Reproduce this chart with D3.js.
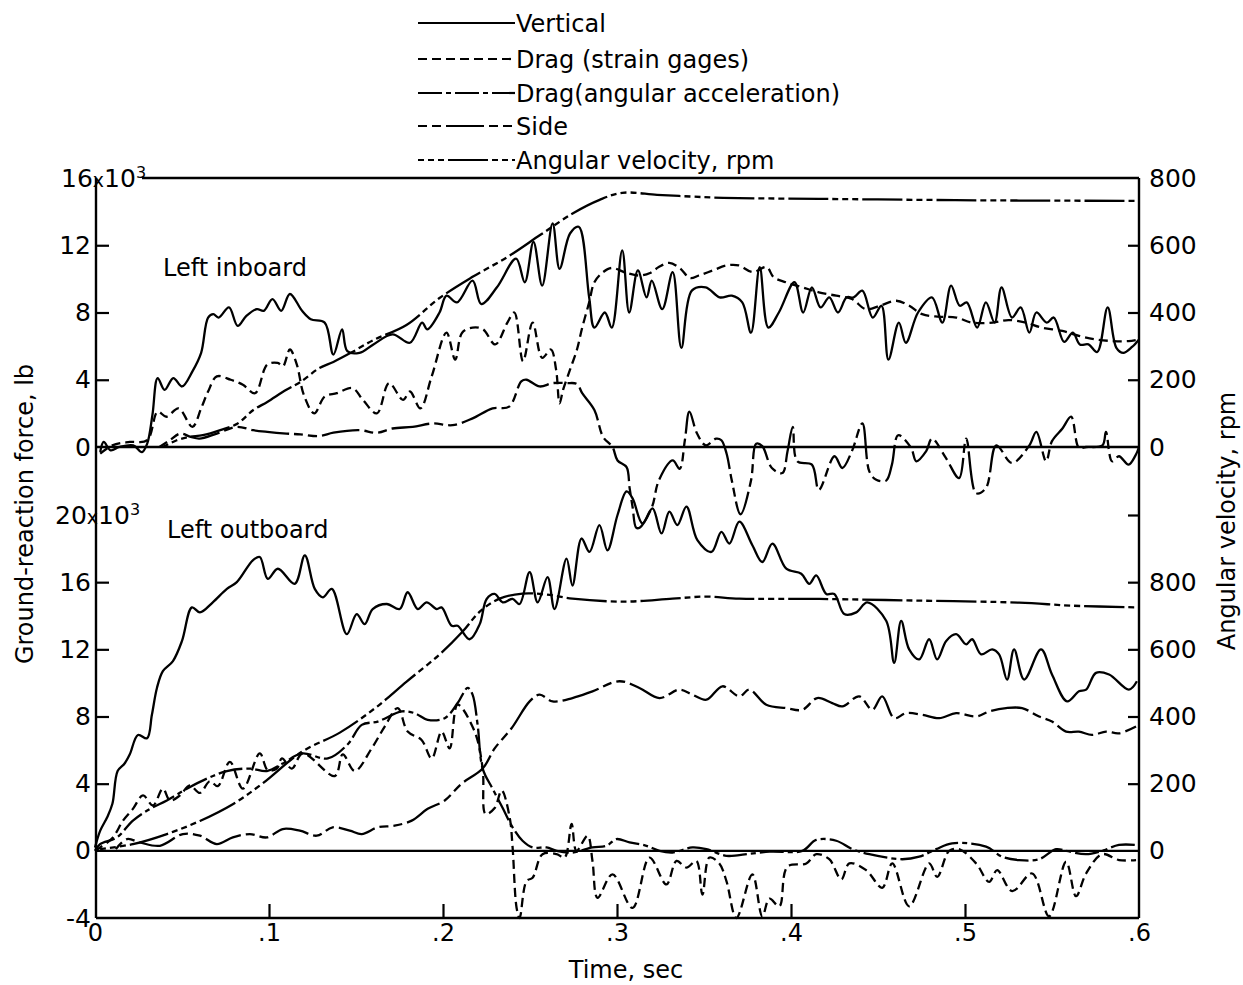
<!DOCTYPE html>
<html>
<head>
<meta charset="utf-8">
<title>Ground-reaction forces, left inboard and outboard wheels</title>
<script src="https://d3js.org/d3.v7.min.js"></script>
<style>
body {margin:0; background:white;}
svg {display:block;}
text {font-family:"DejaVu Sans", sans-serif; fill:black;}
</style>
</head>
<body>
<svg id="chart" width="1243" height="985"></svg>
<script>
// ---- data: [time (s), value] ----
// left inboard, force in 1000 lb, angular velocity in rpm
const inboardVertical = [[0.003,-0.3],[0.005,0.3],[0.009,-0.2],[0.014,0],[0.022,0.1],[0.027,-0.3],[0.030,0.2],[0.033,1.9],[0.036,4.1],[0.040,3.4],[0.045,4.1],[0.050,3.6],[0.056,4.5],[0.061,5.6],[0.065,7.7],[0.068,7.9],[0.071,7.7],[0.077,8.3],[0.082,7.2],[0.087,7.8],[0.093,8.2],[0.097,8.1],[0.102,8.8],[0.107,8.1],[0.112,9.1],[0.119,8.1],[0.124,7.6],[0.132,7.4],[0.137,5.5],[0.142,7.0],[0.145,5.7],[0.152,5.6],[0.160,6.1],[0.171,6.7],[0.181,6.2],[0.188,7.4],[0.191,7.0],[0.198,8.0],[0.202,9.0],[0.208,8.6],[0.217,9.9],[0.222,8.5],[0.231,9.5],[0.242,11.2],[0.247,9.8],[0.252,12.2],[0.257,9.6],[0.263,13.3],[0.267,10.6],[0.273,12.7],[0.278,13.1],[0.284,8.9],[0.287,7.1],[0.293,8.0],[0.297,7.1],[0.303,11.7],[0.307,8.0],[0.312,10.5],[0.317,8.9],[0.320,9.9],[0.326,8.2],[0.332,10.4],[0.337,5.9],[0.343,9.3],[0.351,9.5],[0.359,8.9],[0.366,9.0],[0.372,8.6],[0.377,6.8],[0.382,10.7],[0.387,7.1],[0.393,8.0],[0.402,9.8],[0.407,8.0],[0.412,9.5],[0.417,8.3],[0.422,8.9],[0.427,8.0],[0.432,8.9],[0.436,8.9],[0.441,9.3],[0.447,7.7],[0.452,8.4],[0.456,5.2],[0.462,7.4],[0.466,6.2],[0.473,8.0],[0.481,8.9],[0.487,7.4],[0.492,9.6],[0.497,8.4],[0.501,8.6],[0.507,7.1],[0.512,8.6],[0.517,7.4],[0.521,9.5],[0.527,7.7],[0.532,8.3],[0.537,6.8],[0.541,8.0],[0.547,7.4],[0.551,7.7],[0.557,6.25],[0.562,6.8],[0.566,6.1],[0.571,6.1],[0.576,5.65],[0.582,8.3],[0.587,5.9],[0.591,5.6],[0.596,5.95],[0.600,6.4]];

const inboardDragStrain = [[0.003,-0.4],[0.010,0.1],[0.020,0.3],[0.030,0.4],[0.036,2.1],[0.041,1.8],[0.048,2.3],[0.056,1.2],[0.061,2.3],[0.065,3.3],[0.070,4.2],[0.078,4.0],[0.085,3.7],[0.092,3.2],[0.099,4.9],[0.105,5.0],[0.108,4.8],[0.112,5.8],[0.116,4.9],[0.120,3.1],[0.126,2.0],[0.132,3.0],[0.139,3.2],[0.148,3.5],[0.154,2.8],[0.162,2.0],[0.169,3.8],[0.177,2.8],[0.181,3.3],[0.187,2.3],[0.1935,4.2],[0.202,6.8],[0.207,5.2],[0.211,6.8],[0.217,7.1],[0.223,7.0],[0.230,6.1],[0.237,7.4],[0.241,8.0],[0.246,5.1],[0.2515,7.4],[0.257,5.3],[0.262,5.8],[0.265,4.6],[0.267,2.6],[0.269,3.4],[0.273,4.6],[0.277,5.8],[0.280,7.1],[0.284,8.6],[0.287,9.8],[0.292,10.4],[0.297,10.65],[0.3055,10.35],[0.313,10.2],[0.319,10.35],[0.324,10.7],[0.330,10.95],[0.336,10.65],[0.342,10.05],[0.347,10.2],[0.355,10.5],[0.363,10.8],[0.370,10.8],[0.378,10.4],[0.386,10.7],[0.390,10.1],[0.397,9.8],[0.4065,9.5],[0.416,9.2],[0.426,9.0],[0.435,8.8],[0.443,8.2],[0.451,8.4],[0.4605,8.7],[0.468,8.4],[0.4754,7.9],[0.485,7.75],[0.495,7.7],[0.504,7.4],[0.516,7.4],[0.525,7.55],[0.535,7.4],[0.544,7.1],[0.556,6.9],[0.566,6.6],[0.575,6.4],[0.585,6.3],[0.594,6.3],[0.600,6.4]];

const inboardSide = [[0.037,0],[0.043,0.4],[0.049,0.8],[0.055,0.6],[0.060,0.5],[0.070,0.8],[0.0815,1.2],[0.091,1.0],[0.099,0.9],[0.110,0.8],[0.118,0.75],[0.129,0.65],[0.137,0.85],[0.152,1.0],[0.162,0.85],[0.171,1.1],[0.1826,1.2],[0.194,1.4],[0.2055,1.3],[0.217,1.7],[0.2285,2.3],[0.238,2.4],[0.245,3.9],[0.248,4.0],[0.2555,3.6],[0.263,3.8],[0.271,3.8],[0.277,3.75],[0.280,3.2],[0.287,2.2],[0.292,0.6],[0.2974,0],[0.3003,-0.8],[0.3055,-1.2],[0.3072,-2.4],[0.309,-3.6],[0.311,-4.8],[0.313,-4.8],[0.320,-3.6],[0.324,-2.0],[0.332,-0.8],[0.336,-1.3],[0.339,0.4],[0.3416,2.1],[0.346,0.8],[0.351,0.1],[0.357,0.5],[0.360,0.4],[0.363,-0.4],[0.366,-2.0],[0.371,-4.0],[0.377,-2.0],[0.380,0.2],[0.3835,0.05],[0.389,-1.25],[0.395,-1.55],[0.398,-0.25],[0.401,1.2],[0.4036,-0.85],[0.412,-1.05],[0.416,-2.55],[0.425,-0.55],[0.4295,-1.25],[0.435,-0.25],[0.441,1.4],[0.445,-1.45],[0.449,-1.95],[0.4547,-2.0],[0.458,-1.05],[0.4616,0.7],[0.469,-0.05],[0.472,-0.85],[0.4777,-0.25],[0.481,0.5],[0.489,-0.65],[0.4966,-1.85],[0.5007,0.5],[0.5064,-2.75],[0.512,-2.45],[0.518,0.1],[0.527,-0.95],[0.537,0.1],[0.541,0.9],[0.5466,-0.85],[0.550,0.35],[0.556,1.1],[0.561,1.8],[0.5655,-0.05],[0.5696,0],[0.579,0.1],[0.581,0.9],[0.5845,-0.85],[0.5885,-0.55],[0.594,-1.05],[0.598,-0.5],[0.600,0]];

const inboardAngVel = [[0.039,0],[0.047,20],[0.054,30],[0.062,35],[0.072,50],[0.082,70],[0.091,110],[0.099,134],[0.110,170],[0.118,193],[0.129,235],[0.137,253],[0.147,280],[0.160,318],[0.179,363],[0.198,443],[0.217,506],[0.237,565],[0.256,631],[0.275,696],[0.290,735],[0.303,756],[0.323,750],[0.342,745],[0.361,741],[0.416,738],[0.474,735],[0.531,733],[0.600,732]];

// left outboard
const outboardVertical = [[0,0.2],[0.003,1.2],[0.007,2.0],[0.010,2.8],[0.013,4.75],[0.017,5.2],[0.020,5.75],[0.0247,6.9],[0.0299,6.7],[0.0327,8.1],[0.0356,9.7],[0.039,10.7],[0.0448,11.3],[0.050,12.5],[0.0557,14.5],[0.0603,14.2],[0.0677,14.8],[0.0758,15.6],[0.0815,16.0],[0.0907,17.3],[0.0947,17.5],[0.0993,16.2],[0.1051,16.8],[0.1148,15.9],[0.1206,17.6],[0.1263,15.6],[0.1309,15.1],[0.1361,15.6],[0.1447,12.9],[0.1504,14.1],[0.155,13.5],[0.1596,14.4],[0.1677,14.7],[0.1751,14.4],[0.1797,15.4],[0.1855,14.4],[0.1906,14.8],[0.1964,14.4],[0.1992,14.5],[0.2050,13.4],[0.2084,13.4],[0.2153,12.6],[0.2211,13.5],[0.2251,15.0],[0.2297,15.3],[0.2343,14.8],[0.2400,15.0],[0.2440,14.7],[0.2498,16.6],[0.2544,14.8],[0.2601,16.3],[0.2641,14.4],[0.2710,17.4],[0.2744,15.8],[0.2796,18.6],[0.2842,17.8],[0.2899,19.4],[0.2945,17.9],[0.3003,20.0],[0.3055,21.4],[0.3089,21.0],[0.3146,19.5],[0.3204,20.4],[0.3256,18.9],[0.3301,20.2],[0.3347,19.4],[0.3399,20.5],[0.3462,18.5],[0.3543,17.8],[0.3600,19.0],[0.3646,18.3],[0.3703,19.6],[0.3778,18.2],[0.3835,17.2],[0.3893,18.3],[0.3973,16.8],[0.4059,16.5],[0.4105,15.9],[0.4145,16.4],[0.4203,15.3],[0.4249,15.3],[0.4306,14.1],[0.4375,14.2],[0.4438,14.8],[0.4547,13.7],[0.4593,11.2],[0.4633,13.7],[0.4679,12.0],[0.4737,11.4],[0.4794,12.6],[0.4840,11.4],[0.4892,12.5],[0.4949,12.9],[0.5007,12.3],[0.5041,12.6],[0.5093,11.7],[0.5156,12.0],[0.5196,11.7],[0.5242,10.2],[0.5282,12.0],[0.5340,10.2],[0.5437,12.0],[0.5500,10.5],[0.5587,8.9],[0.5655,9.5],[0.5696,9.6],[0.5753,10.6],[0.5828,10.5],[0.5942,9.6],[0.5988,10.1]];

const outboardDragStrain = [[0,0],[0.003,0.2],[0.0103,0.8],[0.0161,1.8],[0.0218,2.5],[0.0276,3.3],[0.0333,2.7],[0.039,3.7],[0.0431,3.0],[0.0488,3.3],[0.0545,3.9],[0.0603,3.45],[0.066,4.15],[0.0706,3.85],[0.0775,5.3],[0.085,3.7],[0.0947,5.8],[0.0993,4.8],[0.1045,4.9],[0.1074,5.5],[0.1131,4.9],[0.1194,5.8],[0.1378,4.45],[0.1424,5.75],[0.1493,4.75],[0.1590,6.1],[0.1665,7.4],[0.1740,8.5],[0.1797,7.1],[0.1877,6.6],[0.1935,5.5],[0.1992,7.1],[0.2038,6.1],[0.2084,8.7],[0.2182,7.1],[0.2228,4.9],[0.2245,2.2],[0.2297,2.55],[0.2337,3.6],[0.2383,2.0],[0.2400,0.2],[0.2423,-3.4],[0.2440,-4.0],[0.2480,-1.8],[0.2515,-1.6],[0.2572,-0.2],[0.2653,-0.2],[0.2699,-0.4],[0.2739,1.6],[0.2767,0],[0.2831,0.9],[0.2859,-0.6],[0.2888,-2.8],[0.2974,-1.4],[0.3089,-3.4],[0.3187,-0.4],[0.3284,-2.0],[0.3342,-0.6],[0.3399,-1.0],[0.3456,-0.6],[0.3491,-2.6],[0.3531,-0.4],[0.3588,-0.75],[0.3629,-1.8],[0.3686,-4.0],[0.3778,-1.4],[0.3835,-3.9],[0.3876,-2.85],[0.3933,-3.3],[0.3979,-0.95],[0.4088,-0.75],[0.4145,-0.2],[0.4220,-0.5],[0.4289,-1.7],[0.4335,-0.75],[0.4432,-1.15],[0.4524,-2.2],[0.4582,-0.75],[0.4679,-3.3],[0.4794,-0.75],[0.4840,-1.55],[0.4909,0],[0.4966,0.1],[0.5064,-0.75],[0.5139,-1.85],[0.5185,-1.15],[0.5271,-2.4],[0.5386,-1.35],[0.5483,-3.9],[0.5581,-0.65],[0.5638,-2.7],[0.5696,-1.35],[0.5788,-0.2],[0.5885,-0.55],[0.5983,-0.55]];

const outboardDragAngAcc = [[0,0],[0.0029,0.4],[0.0126,0.8],[0.0218,1.8],[0.0316,2.5],[0.0413,3.0],[0.0528,3.7],[0.0643,4.3],[0.0758,4.75],[0.0890,4.9],[0.0988,4.75],[0.1079,5.2],[0.1189,5.8],[0.1338,5.5],[0.1453,6.35],[0.1533,7.5],[0.1625,7.7],[0.1763,8.3],[0.1837,8.2],[0.1912,7.8],[0.2010,7.9],[0.2084,8.8],[0.2142,9.7],[0.2170,9.3],[0.2199,7.5],[0.2228,4.9],[0.2285,3.7],[0.2343,2.55],[0.2400,1.4],[0.2457,0.6],[0.2515,0.2],[0.2595,0.2],[0.2653,0],[0.2744,-0.1],[0.2859,0.2],[0.2940,0.3],[0.2997,0.7],[0.3072,0.5],[0.3169,0.3],[0.3244,0],[0.3319,-0.1],[0.3433,0.2],[0.3514,0.1],[0.3629,-0.3],[0.3703,-0.25],[0.3876,-0.05],[0.4065,0],[0.4145,0.65],[0.4260,0.6],[0.4352,0.1],[0.4450,-0.2],[0.4639,-0.5],[0.4737,-0.35],[0.4834,0.1],[0.4926,0.45],[0.5121,0.25],[0.5213,-0.35],[0.5311,-0.55],[0.5426,-0.5],[0.5523,0.1],[0.5581,0],[0.5696,-0.2],[0.5788,0],[0.5885,0.35],[0.5983,0.35]];

const outboardSide = [[0.012,0.1],[0.0184,0.7],[0.0258,0.5],[0.0373,0.3],[0.0505,1.0],[0.0603,0.9],[0.0700,0.4],[0.0792,0.8],[0.0890,1.0],[0.0988,0.8],[0.1079,1.3],[0.1177,1.2],[0.1275,0.9],[0.1366,1.4],[0.1464,1.2],[0.1533,1.0],[0.1625,1.4],[0.1722,1.5],[0.1820,1.8],[0.1912,2.5],[0.2010,3.0],[0.2107,4.0],[0.2228,4.9],[0.2297,6.1],[0.2394,7.3],[0.2498,8.9],[0.2555,9.3],[0.2630,8.9],[0.2744,9.1],[0.2859,9.5],[0.3014,10.1],[0.3129,9.7],[0.3244,9.1],[0.3359,9.6],[0.3433,9.3],[0.3514,9.0],[0.3606,9.8],[0.3703,9.2],[0.3761,9.6],[0.3858,8.7],[0.3973,8.5],[0.4065,8.4],[0.4151,9.1],[0.4237,8.8],[0.4295,8.6],[0.4392,9.2],[0.4467,8.4],[0.4524,9.2],[0.4593,7.9],[0.4662,8.2],[0.4754,8.1],[0.4852,7.9],[0.4949,8.2],[0.5064,8.0],[0.5139,8.3],[0.5236,8.5],[0.5328,8.5],[0.5426,8.0],[0.5500,7.7],[0.5581,7.1],[0.5655,7.1],[0.5730,6.9],[0.5811,7.1],[0.5885,7.0],[0.5983,7.4]];

const outboardAngVel = [[0.0029,5],[0.0218,20],[0.0413,50],[0.0603,89],[0.0792,139],[0.0959,199],[0.1189,295],[0.1407,352],[0.161,425],[0.1791,504],[0.1981,585],[0.2113,653],[0.2211,712],[0.2325,751],[0.2457,766],[0.2595,763],[0.2744,751],[0.3032,742],[0.3319,751],[0.3514,757],[0.3703,751],[0.4163,750],[0.4737,745],[0.5311,739],[0.5615,730],[0.5983,725]];

const legendLabels = ["Vertical", "Drag (strain gages)", "Drag(angular acceleration)", "Side", "Angular velocity, rpm"];
const timeTicks = [0, 0.1, 0.2, 0.3, 0.4, 0.5, 0.6];
const inboardForceTicks = [0, 4, 8, 12, 16];
const outboardForceTicks = [-4, 0, 4, 8, 12, 16, 20];
const inboardRpmTicks = [0, 200, 400, 600, 800];
const outboardRpmTicks = [0, 200, 400, 600, 800, 1000];

// line styles for each legend entry
var dashes = ["none", "9,5", "24,4,5,4", "9,5,9,5,38,5", "6,4,6,4,6,4,40,4"];

var svg = d3.select("#chart");
svg.append("rect").attr("width", 1243).attr("height", 985).attr("fill", "white");

var left = 96, right = 1139;
var x = d3.scaleLinear().domain([0, 0.6]).range([95, 1139]);
var yTop = d3.scaleLinear().domain([0, 16]).range([447, 178]);
var yTopR = d3.scaleLinear().domain([0, 800]).range([447, 178]);
var yBot = d3.scaleLinear().domain([-4, 20]).range([918, 515]);
var yBotR = d3.scaleLinear().domain([0, 1000]).range([yBot(0), yBot(20)]);

function frameLine(x1, y1, x2, y2) {
  svg.append("line")
    .attr("x1", x1).attr("y1", y1).attr("x2", x2).attr("y2", y2)
    .attr("stroke", "black").attr("stroke-width", 2.4);
}

// frame
frameLine(142, yTop(16), right, yTop(16));
frameLine(left, yTop(16), left, yBot(-4));
frameLine(right, yTop(16), right, yBot(-4));
frameLine(left, yBot(-4), right, yBot(-4));
frameLine(left, yTop(0), right, yTop(0));
frameLine(left, yBot(0), right, yBot(0));

function styleAxis(g, size) {
  g.select(".domain").remove();
  g.selectAll(".tick line").attr("stroke", "black").attr("stroke-width", 2.2);
  g.selectAll(".tick text").style("font-size", size + "px").style("font-family", "DejaVu Sans");
}

function powerLabel(g, value, startX) {
  g.selectAll(".tick").filter(function(d) { return d === value; })
    .select("text")
    .attr("text-anchor", "start")
    .attr("x", startX)
    .text(null)
    .call(function(t) {
      t.append("tspan").text(value);
      t.append("tspan").style("font-size", "19px").text("x");
      t.append("tspan").text("10");
      t.append("tspan").attr("dy", "-0.55em").style("font-size", "16px").text("3");
    });
}

var gL1 = svg.append("g").attr("transform", "translate(" + left + ",0)")
  .call(d3.axisLeft(yTop).tickValues(inboardForceTicks).tickSizeInner(-13).tickSizeOuter(0).tickPadding(5)
    .tickFormat(d3.format("d")));
styleAxis(gL1, 25);
gL1.selectAll(".tick line").filter(function(d) { return d === 0 || d === 16; }).remove();
powerLabel(gL1, 16, -35);

var gL2 = svg.append("g").attr("transform", "translate(" + left + ",0)")
  .call(d3.axisLeft(yBot).tickValues(outboardForceTicks).tickSizeInner(-13).tickSizeOuter(0).tickPadding(5)
    .tickFormat(function(d) { return d < 0 ? "-" + Math.abs(d) : d; }));
styleAxis(gL2, 25);
gL2.selectAll(".tick line").filter(function(d) { return d === 0 || d === -4 || d === 20; }).remove();
powerLabel(gL2, 20, -41);

var gR1 = svg.append("g").attr("transform", "translate(" + right + ",0)")
  .call(d3.axisRight(yTopR).tickValues(inboardRpmTicks).tickSizeInner(-11).tickSizeOuter(0).tickPadding(10));
styleAxis(gR1, 25);
gR1.selectAll(".tick line").filter(function(d) { return d === 0 || d === 800; }).remove();

var gR2 = svg.append("g").attr("transform", "translate(" + right + ",0)")
  .call(d3.axisRight(yBotR).tickValues(outboardRpmTicks).tickSizeInner(-11).tickSizeOuter(0).tickPadding(10)
    .tickFormat(function(d) { return d === 1000 ? "" : d; }));
styleAxis(gR2, 25);
gR2.selectAll(".tick line").filter(function(d) { return d === 0; }).remove();

var gX = svg.append("g").attr("transform", "translate(0," + yBot(-4) + ")")
  .call(d3.axisBottom(x).tickValues(timeTicks).tickSizeInner(-14).tickSizeOuter(0).tickPadding(6)
    .tickFormat(function(d) { return d === 0 ? "0" : d3.format(".1f")(d).replace("0.", "."); }));
styleAxis(gX, 24);
gX.selectAll(".tick line").filter(function(d) { return d === 0 || d === 0.6; }).remove();

// axis titles and panel labels
svg.append("text").attr("transform", "translate(33,514) rotate(-90)")
  .attr("text-anchor", "middle").style("font-size", "24px").text("Ground-reaction force, lb");
svg.append("text").attr("transform", "translate(1235,521) rotate(-90)")
  .attr("text-anchor", "middle").style("font-size", "24px").text("Angular velocity, rpm");
svg.append("text").attr("x", 626).attr("y", 978)
  .attr("text-anchor", "middle").style("font-size", "24px").text("Time, sec");
svg.append("text").attr("x", 163).attr("y", 276).style("font-size", "24px").text("Left inboard");
svg.append("text").attr("x", 167).attr("y", 538).style("font-size", "24px").text("Left outboard");

// legend
var legend = svg.append("g").selectAll("g").data(legendLabels).enter().append("g")
  .attr("transform", function(d, i) { return "translate(0," + [23, 59, 93, 126, 160][i] + ")"; });
legend.append("line").attr("x1", 418).attr("x2", 515)
  .attr("stroke", "black").attr("stroke-width", 2.2)
  .attr("stroke-dasharray", function(d, i) { return dashes[i]; });
legend.append("text").attr("x", 516).attr("y", 9).style("font-size", "24px").text(function(d) { return d; });

// curves
function draw(data, yScale, style) {
  var line = d3.line()
    .x(function(d) { return x(d[0]); })
    .y(function(d) { return yScale(d[1]); })
    .curve(d3.curveCatmullRom.alpha(0.5));
  svg.append("path").datum(data)
    .attr("d", line)
    .attr("fill", "none")
    .attr("stroke", "black")
    .attr("stroke-width", 2.3)
    .attr("stroke-linejoin", "round")
    .attr("stroke-dasharray", dashes[style]);
}

draw(inboardVertical, yTop, 0);
draw(inboardDragStrain, yTop, 1);
draw(inboardSide, yTop, 3);
draw(inboardAngVel, yTopR, 4);

draw(outboardVertical, yBot, 0);
draw(outboardDragStrain, yBot, 1);
draw(outboardDragAngAcc, yBot, 2);
draw(outboardSide, yBot, 3);
draw(outboardAngVel, yBotR, 4);
</script>
</body>
</html>
